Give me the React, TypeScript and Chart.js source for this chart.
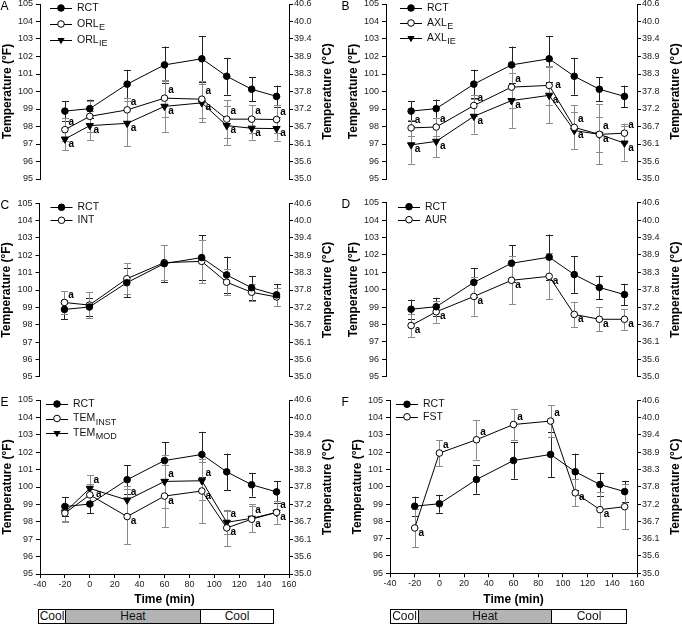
import { useEffect, useRef } from "react";
import { Chart, registerables } from "chart.js";

Chart.register(...registerables);

const FONT = "'Liberation Sans', Arial, Helvetica, sans-serif";
Chart.defaults.font.family = FONT;

// sample times (min)
const times = [-20, 0, 30, 60, 90, 110, 130, 150];
// right axis labels (°C equivalents of 95..105 °F)
const celsiusTicks = ["35.0", "35.6", "36.1", "36.7", "37.2", "37.8", "38.3", "38.9", "39.4", "40.0", "40.6"];

// rectal (reference), shown in every panel
const rct = [98.88, 99.02, 100.42, 101.52, 101.87, 100.87, 100.13, 99.72];
const rctSd = [0.55, 0.52, 0.82, 1.05, 1.3, 1.05, 0.68, 0.62];

// A: oral
const orlE = [97.82, 98.58, 98.95, 99.62, 99.56, 98.42, 98.42, 98.4];
const orlESd = [0.65, 0.9, 0.65, 1.05, 1.05, 1.1, 0.8, 0.8];
const orlESig = ["u", "", "u", "u", "u", "u", "u", "u"];
const orlIE = [97.28, 98.05, 98.18, 99.15, 99.35, 98.05, 97.9, 97.88];
const orlIESd = [0.65, 0.85, 1.3, 1.45, 1.1, 1.1, 0.65, 0.68];
const orlIESig = ["d", "d", "d", "d", "d", "d", "d", "d"];

// B: axillary
const axlE = [97.92, 97.97, 99.2, 100.25, 100.35, 97.95, 97.55, 97.62];
const axlESd = [0.45, 0.5, 0.6, 1.2, 1.1, 1.25, 1.0, 0.55];
const axlESig = ["u", "u", "u", "u", "r", "u", "u", "u"];
const axlIE = [96.95, 97.15, 98.58, 99.48, 99.78, 97.77, 97.55, 97.05];
const axlIESd = [1.08, 0.9, 0.98, 1.55, 1.6, 1.08, 1.72, 1.0];
const axlIESig = ["d", "d", "d", "d", "d", "d", "d", "d"];

// C: intestinal
const intT = [99.28, 99.13, 100.65, 101.58, 101.65, 100.45, 99.87, 99.6];
const intSd = [0.65, 0.75, 0.88, 1.0, 1.25, 0.75, 0.5, 0.5];
const intSig = ["u", "", "", "", "", "", "", ""];

// D: aural
const aur = [97.94, 98.73, 99.61, 100.54, 100.77, 98.58, 98.3, 98.3];
const aurSd = [0.65, 0.62, 1.1, 1.38, 1.33, 0.72, 0.7, 0.6];
const aurSig = ["d", "d", "d", "d", "d", "d", "d", "d"];

// E: temporal
const temInst = [98.5, 99.55, 98.3, 99.48, 99.77, 97.65, 98.15, 98.54];
const temInstSd = [0.5, 0.6, 1.6, 1.8, 1.85, 1.05, 0.75, 0.65];
const temInstSig = ["", "r", "d", "d", "d", "d", "d", "d"];
const temMod = [98.55, 99.92, 99.25, 100.32, 100.36, 97.97, 98.2, 98.54];
const temModSd = [0.5, 0.75, 0.8, 1.5, 1.1, 0.67, 0.8, 0.65];
const temModSig = ["", "u", "u", "u", "u", "u", "u", "u"];

// F: forehead
const fst = [97.62, 101.95, 102.72, 103.6, 103.8, 99.65, 98.68, 98.85];
const fstSd = [1.1, 0.75, 1.15, 0.9, 0.9, 0.78, 1.0, 1.3];
const fstSig = ["d", "u", "u", "u", "u", "d", "d", ""];

type Marker = "filled" | "open" | "tri";
interface Series { name: string; sub?: string; values: number[]; sd: number[]; marker: Marker; sig?: string[]; }

const rctS: Series = { name: "RCT", values: rct, sd: rctSd, marker: "filled" };

interface PanelDef {
  letter: string; left: number; top: number; width: number; height: number;
  plot: { l: number; r: number; t: number; b: number };
  xAxis: boolean; series: Series[]; legendX: number; legendGap: number;
}

const panels: PanelDef[] = [
  {
    letter: "A", left: 0, top: 0, width: 341, height: 195, plot: { l: 40, r: 289, t: 4, b: 179 }, xAxis: false, legendX: 21, legendGap: 16,
    series: [rctS,
      { name: "ORL", sub: "E", values: orlE, sd: orlESd, marker: "open", sig: orlESig },
      { name: "ORL", sub: "IE", values: orlIE, sd: orlIESd, marker: "tri", sig: orlIESig }],
  },
  {
    letter: "B", left: 341, top: 0, width: 341, height: 195, plot: { l: 386, r: 637, t: 4, b: 179 }, xAxis: false, legendX: 25, legendGap: 15,
    series: [rctS,
      { name: "AXL", sub: "E", values: axlE, sd: axlESd, marker: "open", sig: axlESig },
      { name: "AXL", sub: "IE", values: axlIE, sd: axlIESd, marker: "tri", sig: axlIESig }],
  },
  {
    letter: "C", left: 0, top: 195, width: 341, height: 195, plot: { l: 39.5, r: 289, t: 203.3, b: 376.7 }, xAxis: false, legendX: 22, legendGap: 13,
    series: [rctS, { name: "INT", values: intT, sd: intSd, marker: "open", sig: intSig }],
  },
  {
    letter: "D", left: 341, top: 195, width: 341, height: 195, plot: { l: 386, r: 637, t: 202.7, b: 376.7 }, xAxis: false, legendX: 23, legendGap: 13,
    series: [rctS, { name: "AUR", values: aur, sd: aurSd, marker: "open", sig: aurSig }],
  },
  {
    letter: "E", left: 0, top: 390, width: 341, height: 220, plot: { l: 40, r: 289, t: 400, b: 574 }, xAxis: true, legendX: 17, legendGap: 14.5,
    series: [rctS,
      { name: "TEM", sub: "INST", values: temInst, sd: temInstSd, marker: "open", sig: temInstSig },
      { name: "TEM", sub: "MOD", values: temMod, sd: temModSd, marker: "tri", sig: temModSig }],
  },
  {
    letter: "F", left: 341, top: 390, width: 341, height: 220, plot: { l: 390, r: 637, t: 400.3, b: 573.3 }, xAxis: true, legendX: 17, legendGap: 12.5,
    series: [rctS, { name: "FST", values: fst, sd: fstSd, marker: "open", sig: fstSig }],
  },
];

const phaseBars = [
  { left: 38, top: 609, segments: [{ label: "Cool", w: 26, fill: "#fff" }, { label: "Heat", w: 135, fill: "#b3b3b3" }, { label: "Cool", w: 73, fill: "#fff" }] },
  { left: 390, top: 609, segments: [{ label: "Cool", w: 27, fill: "#fff" }, { label: "Heat", w: 133, fill: "#b3b3b3" }, { label: "Cool", w: 75, fill: "#fff" }] },
];

const sigOffset: { [k: string]: [number, number] } = { u: [6.5, -7.5], d: [6.5, 5], r: [9, 0] };

function drawMarker(ctx: CanvasRenderingContext2D, m: Marker, x: number, y: number) {
  ctx.beginPath();
  if (m === "tri") {
    const r = 4.2;
    ctx.moveTo(x, y + r);
    ctx.lineTo(x - r * 0.866, y - r / 2);
    ctx.lineTo(x + r * 0.866, y - r / 2);
    ctx.closePath();
    ctx.fillStyle = "#000";
    ctx.fill();
  } else {
    ctx.arc(x, y, 3.3, 0, Math.PI * 2);
    ctx.fillStyle = m === "open" ? "#fff" : "#000";
    ctx.fill();
    ctx.lineWidth = 1;
    ctx.strokeStyle = "#000";
    ctx.stroke();
  }
}

function makePlugin(p: PanelDef) {
  return {
    id: "panel" + p.letter,
    beforeDatasetsDraw(chart: Chart) {
      const ctx = chart.ctx;
      const xs = chart.scales.x;
      const ys = chart.scales.y;
      ctx.save();
      ctx.lineWidth = 1;
      p.series.forEach((s) => {
        ctx.strokeStyle = s === rctS ? "#222" : "#8a8a8a";
        s.values.forEach((v, i) => {
          const x = Math.round(xs.getPixelForValue(times[i])) + 0.5;
          const y1 = ys.getPixelForValue(v + s.sd[i]);
          const y2 = ys.getPixelForValue(v - s.sd[i]);
          ctx.beginPath();
          ctx.moveTo(x, y1);
          ctx.lineTo(x, y2);
          ctx.moveTo(x - 3.5, Math.round(y1) + 0.5);
          ctx.lineTo(x + 3.5, Math.round(y1) + 0.5);
          ctx.moveTo(x - 3.5, Math.round(y2) + 0.5);
          ctx.lineTo(x + 3.5, Math.round(y2) + 0.5);
          ctx.stroke();
        });
      });
      ctx.restore();
    },
    afterDatasetsDraw(chart: Chart) {
      const ctx = chart.ctx;
      const ca = chart.chartArea;
      const xs = chart.scales.x;
      const ys = chart.scales.y;
      ctx.save();
      ctx.fillStyle = "#000";

      // significance marks
      ctx.font = `bold 10px ${FONT}`;
      ctx.textAlign = "center";
      ctx.textBaseline = "alphabetic";
      p.series.forEach((s) => {
        (s.sig || []).forEach((code, i) => {
          if (!code) return;
          const [dx, dy] = sigOffset[code];
          const x = xs.getPixelForValue(times[i]);
          const y = ys.getPixelForValue(s.values[i]);
          ctx.fillText("a", x + dx, y + dy + 2.6);
        });
      });

      // legend
      p.series.forEach((s, k) => {
        const y = ca.top + 4 + k * p.legendGap;
        const mx = ca.left + p.legendX;
        ctx.beginPath();
        ctx.strokeStyle = "#000";
        ctx.lineWidth = 1;
        ctx.moveTo(mx - 11, Math.round(y) + 0.5);
        ctx.lineTo(mx + 11, Math.round(y) + 0.5);
        ctx.stroke();
        drawMarker(ctx, s.marker, mx, y);
        ctx.fillStyle = "#111";
        ctx.textAlign = "left";
        ctx.textBaseline = "middle";
        ctx.font = `10.5px ${FONT}`;
        ctx.fillText(s.name, mx + 16, y);
        if (s.sub) {
          const w = ctx.measureText(s.name).width;
          ctx.font = `9px ${FONT}`;
          ctx.fillText(s.sub, mx + 16 + w + 0.5, y + 4);
        }
      });

      // panel letter
      ctx.fillStyle = "#000";
      ctx.font = `12px ${FONT}`;
      ctx.textAlign = "left";
      ctx.textBaseline = "alphabetic";
      ctx.fillText(p.letter, 0.5, ca.top + 5.5);

      // axis titles
      ctx.font = `bold 12px ${FONT}`;
      ctx.textAlign = "center";
      ctx.textBaseline = "middle";
      const cy = (ca.top + ca.bottom) / 2;
      [[ca.left - 32.5, "Temperature (°F)"], [ca.right + 39, "Temperature (°C)"]].forEach(([x, t]) => {
        ctx.save();
        ctx.translate(x as number, cy);
        ctx.rotate(-Math.PI / 2);
        ctx.fillText(t as string, 0, 0);
        ctx.restore();
      });
      if (p.xAxis) {
        ctx.fillText("Time (min)", (ca.left + ca.right) / 2, ca.bottom + 26);
      }
      ctx.restore();
    },
  };
}

const Panel: React.FC<{ p: PanelDef }> = ({ p }) => {
  const canvasRef = useRef<HTMLCanvasElement | null>(null);

  useEffect(() => {
    if (!canvasRef.current) return;
    const tickFont = { size: 9, family: FONT };
    const grid = { drawOnChartArea: false, drawTicks: true, tickLength: 4, color: "#000", lineWidth: 1 };
    const border = { display: true, color: "#000", width: 1 };
    const chart = new Chart(canvasRef.current, {
      type: "line",
      data: {
        datasets: p.series.map((s) => ({
          data: s.values.map((v, i) => ({ x: times[i], y: v })),
          borderColor: "#000",
          borderWidth: 1,
          pointStyle: s.marker === "tri" ? "triangle" : "circle",
          pointRotation: s.marker === "tri" ? 180 : 0,
          pointRadius: s.marker === "tri" ? 4.2 : 3.3,
          pointBackgroundColor: s.marker === "open" ? "#fff" : "#000",
          pointBorderColor: "#000",
          pointBorderWidth: 1,
          tension: 0,
          yAxisID: "y",
        })),
      },
      options: {
        responsive: false,
        animation: false,
        events: [],
        layout: {
          autoPadding: false,
          padding: { top: p.plot.t - p.top, bottom: p.xAxis ? 0 : p.top + p.height - p.plot.b, left: 0, right: 0 },
        },
        plugins: { legend: { display: false }, tooltip: { enabled: false } },
        scales: {
          x: {
            type: "linear", min: -40, max: 160, display: p.xAxis,
            ticks: { stepSize: 20, font: tickFont, color: "#222", padding: 1, maxRotation: 0, autoSkip: false },
            grid, border,
            afterFit: (a: any) => {
              if (p.xAxis) a.height = p.top + p.height - p.plot.b;
              a.paddingLeft = 0;
              a.paddingRight = 0;
            },
          },
          y: {
            position: "left", min: 95, max: 105,
            ticks: { stepSize: 1, font: tickFont, color: "#222", padding: 3 },
            grid, border,
            afterFit: (a: any) => {
              a.width = p.plot.l - p.left;
              a.paddingTop = 0;
              a.paddingBottom = 0;
            },
          },
          y2: {
            position: "right", min: 95, max: 105,
            ticks: { stepSize: 1, font: tickFont, color: "#222", padding: 1, callback: (_v: any, i: number) => celsiusTicks[i] },
            grid, border,
            afterFit: (a: any) => {
              a.width = p.left + p.width - p.plot.r;
              a.paddingTop = 0;
              a.paddingBottom = 0;
            },
          },
        },
      },
      plugins: [makePlugin(p)],
    } as any);
    return () => chart.destroy();
  }, [p]);

  return (
    <canvas
      ref={canvasRef}
      width={p.width}
      height={p.height}
      style={{ position: "absolute", left: p.left, top: p.top, width: p.width, height: p.height }}
    />
  );
};

export default function App() {
  return (
    <div style={{ position: "absolute", left: 0, top: 0, width: 682, height: 624, background: "#fff", fontFamily: FONT, overflow: "hidden" }}>
      {panels.map((p) => (
        <Panel key={p.letter} p={p} />
      ))}
      {phaseBars.map((b, bi) => (
        <div
          key={bi}
          style={{ position: "absolute", left: b.left, top: b.top, height: 15, display: "flex", border: "1px solid #000", boxSizing: "border-box" }}
        >
          {b.segments.map((s, si) => (
            <div
              key={si}
              style={{
                width: s.w, background: s.fill, borderLeft: si ? "1px solid #000" : "none", boxSizing: "border-box",
                fontSize: 12, lineHeight: "13px", textAlign: "center", color: "#111", overflow: "hidden", whiteSpace: "nowrap",
              }}
            >
              {s.label}
            </div>
          ))}
        </div>
      ))}
    </div>
  );
}
